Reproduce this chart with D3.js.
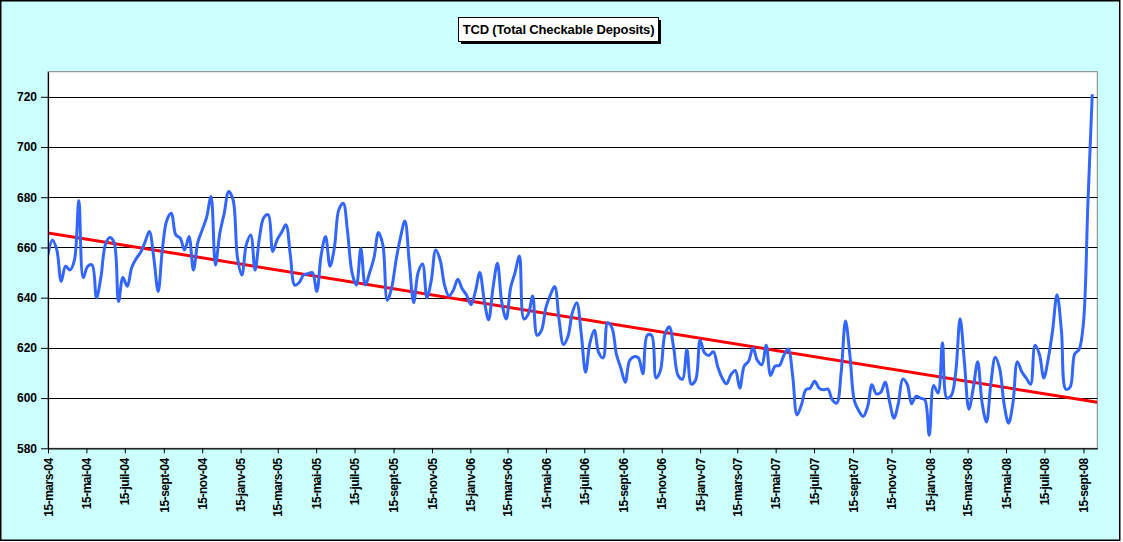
<!DOCTYPE html>
<html>
<head>
<meta charset="utf-8">
<script src="https://cdn.jsdelivr.net/npm/d3@7"></script>
<style>
  html, body { margin: 0; padding: 0; background: #ffffff; }
  svg { display: block; font-family: "Liberation Sans", Arial, sans-serif; }
</style>
</head>
<body>
<svg id="chart"></svg>
<script>
// chart title
const chartTitle = "TCD (Total Checkable Deposits)";

// weekly values, first week is 15-mars-04
const firstWeek = "2004-03-15";
const lastAxisDay = "2008-10-07";
const tcdValues = [
  657, 663, 659, 646.5, 652.5, 651, 655, 678.7, 648, 652.5,
  653, 640, 648, 661, 664, 662, 638.5, 648, 644.5, 652,
  655.5, 658, 662, 666.4, 656, 642.5, 660, 671, 673.6, 665,
  663.7, 659, 664.4, 651, 662, 667, 672, 680.3, 653, 665.7,
  673.6, 682.3, 679, 656, 649, 661, 665, 651, 664, 672,
  673, 658.4, 663, 666, 669, 657, 645, 646, 649, 649.5,
  650, 642.5, 657, 664.4, 652.5, 660, 675, 677.6, 666, 650,
  645, 659.6, 645, 650, 656, 666, 661, 639, 644, 655,
  664, 670.5, 654, 638, 650, 653.4, 640, 647, 659, 655,
  645, 640.7, 643, 647.3, 643.5, 641, 637.2, 642.5, 650, 639,
  631.2, 644, 653.7, 638, 631.5, 644, 650, 656.6, 631.5, 633.5,
  640.7, 625, 627, 636, 641, 644.4, 631, 621.3, 624.5, 634,
  638, 626, 610.3, 622, 627, 618, 616, 630, 628, 617.5,
  612, 606.3, 615, 616.5, 616, 609.7, 625, 625, 608, 611,
  625.3, 628.4, 620, 609, 607.5, 619.3, 605.5, 607.3, 623, 618,
  617, 618.5, 612.5, 608, 605.7, 609.3, 611, 604, 612.7, 614.7,
  620, 615, 613.3, 621, 609, 612.7, 613, 617, 619.6, 609,
  593.3, 597.3, 603.3, 604, 606.7, 604, 603.3, 603.6, 599.3, 598,
  610, 630.7, 617, 599, 595, 592.7, 596.5, 605.3, 601.7, 602.3,
  606.3, 598.5, 592, 598, 607.6, 605.5, 597.7, 600.7, 600, 599.3,
  585.2, 605, 602, 622, 600, 601, 610, 631.6, 614, 595.6,
  604, 614.5, 598, 590.5, 606, 616.3, 611.6, 597.5, 590, 598,
  614.5, 610.5, 608, 605.5, 621, 617.5, 608, 615.6, 627, 641.2,
  627, 603.5, 604.5, 617.5, 619.3, 630, 677, 721
];

// linear trend, value at the first and at the last day of the axis
const trendValues = [665.8, 598.3];

// axis ticks
const yTicks = [580, 600, 620, 640, 660, 680, 700, 720];
const xTickLabels = [
  "15-mars-04", "15-mai-04", "15-juil-04", "15-sept-04", "15-nov-04",
  "15-janv-05", "15-mars-05", "15-mai-05", "15-juil-05", "15-sept-05", "15-nov-05",
  "15-janv-06", "15-mars-06", "15-mai-06", "15-juil-06", "15-sept-06", "15-nov-06",
  "15-janv-07", "15-mars-07", "15-mai-07", "15-juil-07", "15-sept-07", "15-nov-07",
  "15-janv-08", "15-mars-08", "15-mai-08", "15-juil-08", "15-sept-08"
];
const monthIndex = {"janv": 0, "mars": 2, "mai": 4, "juil": 6, "sept": 8, "nov": 10};

drawChart();

function parseLabel(label) {
  var parts = label.split("-");
  return new Date(Date.UTC(2000 + (+parts[2]), monthIndex[parts[1]], +parts[0]));
}

function drawChart() {
  const width = 1123;
  const height = 542;
  const marginTop = 71.7;
  const marginLeft = 48;
  const plotRight = 1097.3;
  const plotBottom = 448.3;

  const startDate = d3.utcParse("%Y-%m-%d")(firstWeek);
  const endDate = d3.utcParse("%Y-%m-%d")(lastAxisDay);

  var lineData = tcdValues.map((v, i) => ({date: d3.utcDay.offset(startDate, 7 * i), value: v}));
  var trendData = [{date: startDate, value: trendValues[0]}, {date: endDate, value: trendValues[1]}];
  var tickDates = xTickLabels.map(parseLabel);

  // scales
  const x = d3.scaleUtc([startDate, endDate], [marginLeft, plotRight]);
  const y = d3.scaleLinear([580, 730], [plotBottom, marginTop]);

  var svg = d3.select("#chart")
      .attr("width", width)
      .attr("height", height)
      .attr("viewBox", [0, 0, width, height]);

  // chart area with its black frame
  svg.append("rect")
      .attr("x", 0.75)
      .attr("y", 0.75)
      .attr("width", 1119)
      .attr("height", 539.5)
      .attr("fill", "#ccffff")
      .attr("stroke", "#000")
      .attr("stroke-width", 1.5);

  // plot area
  svg.append("rect")
      .attr("x", marginLeft)
      .attr("y", marginTop)
      .attr("width", plotRight - marginLeft)
      .attr("height", plotBottom - marginTop)
      .attr("fill", "#fff")
      .attr("stroke", "#808080")
      .attr("stroke-width", 1);

  // horizontal grid lines
  svg.append("g")
      .selectAll("line")
      .data(yTicks.filter(d => d > 580))
      .join("line")
      .attr("x1", marginLeft)
      .attr("x2", plotRight)
      .attr("y1", d => Math.round(y(d)) + 0.5)
      .attr("y2", d => Math.round(y(d)) + 0.5)
      .attr("stroke", "#000")
      .attr("stroke-width", 1);

  // clip the lines to the plot area
  svg.append("clipPath")
      .attr("id", "plot-clip")
    .append("rect")
      .attr("x", marginLeft)
      .attr("y", marginTop)
      .attr("width", plotRight - marginLeft)
      .attr("height", plotBottom - marginTop);

  const line = d3.line()
      .x(d => x(d.date))
      .y(d => y(d.value));

  // trend line
  svg.append("path")
      .attr("clip-path", "url(#plot-clip)")
      .attr("fill", "none")
      .attr("stroke", "#ff0000")
      .attr("stroke-width", 3)
      .attr("d", line(trendData));

  // weekly series, smoothed like the spreadsheet line
  svg.append("path")
      .attr("clip-path", "url(#plot-clip)")
      .attr("fill", "none")
      .attr("stroke", "#3366ff")
      .attr("stroke-width", 3)
      .attr("stroke-linejoin", "round")
      .attr("d", line.curve(d3.curveCatmullRom)(lineData));

  // y axis
  svg.append("g")
      .attr("transform", `translate(${marginLeft},0)`)
      .call(d3.axisLeft(y).tickValues(yTicks).tickSize(7).tickPadding(4).tickSizeOuter(0))
      .call(g => g.select(".domain").attr("stroke", "#000").attr("stroke-width", 1.2))
      .call(g => g.selectAll(".tick line").attr("stroke", "#000"))
      .call(g => g.selectAll(".tick text")
          .attr("fill", "#000")
          .attr("font-size", 12)
          .attr("font-weight", "bold")
          .attr("font-family", "Liberation Sans, Arial, sans-serif"));

  // x axis with rotated labels
  svg.append("g")
      .attr("transform", `translate(0,${plotBottom})`)
      .call(d3.axisBottom(x).tickValues(tickDates).tickFormat((d, i) => xTickLabels[i]).tickSize(5).tickSizeOuter(0))
      .call(g => g.select(".domain").attr("stroke", "#000").attr("stroke-width", 1.2))
      .call(g => g.selectAll(".tick line").attr("stroke", "#000"))
      .call(g => g.selectAll(".tick text")
          .attr("fill", "#000")
          .attr("font-size", 12)
          .attr("font-weight", "bold")
          .attr("font-family", "Liberation Sans, Arial, sans-serif")
          .attr("letter-spacing", -0.5)
          .attr("text-anchor", "end")
          .attr("transform", "rotate(-90)")
          .attr("x", -10)
          .attr("y", 0)
          .attr("dy", "0.35em"));

  // title box with shadow
  var titleG = svg.append("g").attr("transform", "translate(458,17)");
  titleG.append("rect")
      .attr("x", 3)
      .attr("y", 3)
      .attr("width", 200)
      .attr("height", 24)
      .attr("fill", "#000");
  titleG.append("rect")
      .attr("x", 0.5)
      .attr("y", 0.5)
      .attr("width", 200)
      .attr("height", 24)
      .attr("fill", "#fff")
      .attr("stroke", "#000")
      .attr("stroke-width", 1);
  titleG.append("text")
      .attr("x", 100.5)
      .attr("y", 17)
      .attr("text-anchor", "middle")
      .attr("font-size", 13)
      .attr("font-weight", "bold")
      .attr("letter-spacing", -0.15)
      .text(chartTitle);
}
</script>
</body>
</html>
